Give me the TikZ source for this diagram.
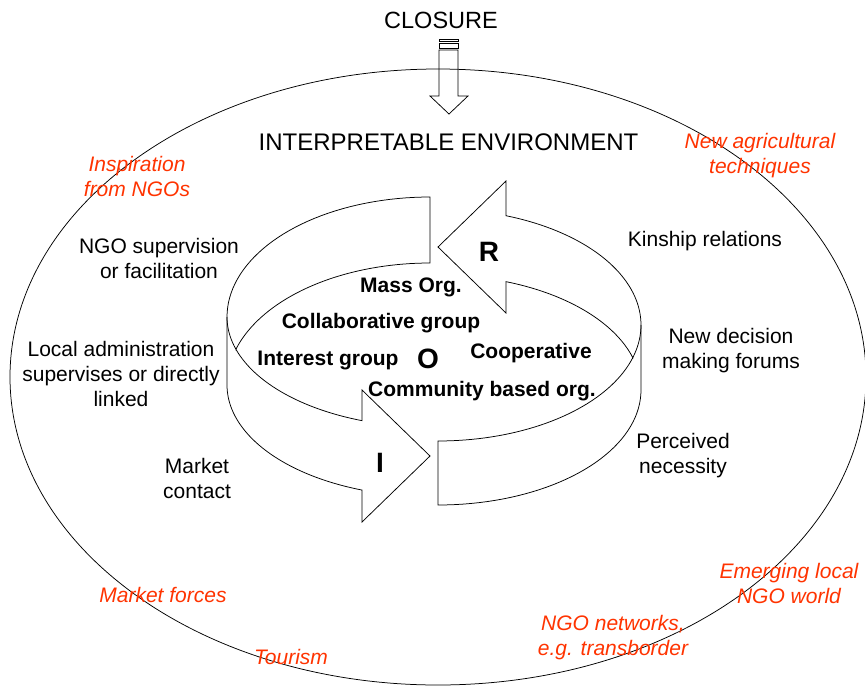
\documentclass[tikz,border=0pt]{standalone}
\usepackage{fontspec}
\setmainfont{Liberation Sans}
\definecolor{extred}{RGB}{255,51,0}
\begin{document}
\begin{tikzpicture}[x=1pt,y=-1pt,line width=0.75pt,
  band/.style={draw=black,fill=white,line width=0.75pt},
  lbl/.style={font=\fontsize{21}{25}\selectfont,align=center,inner sep=0pt},
  ext/.style={lbl,text=extred,font=\fontsize{21}{25}\selectfont\itshape},
  org/.style={font=\fontsize{21}{25}\selectfont\bfseries,inner sep=0pt},
  big/.style={font=\fontsize{28}{30}\selectfont\bfseries,inner sep=0pt},
  headline/.style={font=\fontsize{23.5}{28}\selectfont,inner sep=0pt}]
\useasboundingbox (0,0) rectangle (865,686);

% environment boundary
\draw (438,377) ellipse [x radius=428pt, y radius=308pt];

% striped closure arrow
\draw (439,39) rectangle (458,41.5);
\draw (439,43.5) rectangle (458,48);
\draw (439,50) -- (439,96) -- (430,96) -- (449,114) -- (468,96) -- (458,96) -- (458,50) -- cycle;

% left curved arrow (I), running from the back round to the front
\draw[band] (430,197)
  -- plot[domain=270:180,samples=40] ({430+203*cos(\x)},{317+120*sin(\x)})
  -- (227,385)
  -- plot[domain=180:109.6,samples=40] ({430+203*cos(\x)},{385+111.5*sin(\x)})
  -- (362,522) -- (430,456) -- (362,390)
  -- plot[domain=109.6:162.96,samples=30] ({430+203*cos(\x)},{317+110*sin(\x)})
  -- plot[domain=197.04:270,samples=40] ({430+203*cos(\x)},{385+122*sin(\x)})
  -- cycle;
\draw plot[domain=162.96:180,samples=10] ({430+203*cos(\x)},{317+110*sin(\x)});

% right curved arrow (R), running from the front round to the back
\draw[band] (438,247) -- (506,181)
  -- plot[domain=-70.4:0,samples=40] ({438+203*cos(\x)},{325+116*sin(\x)})
  -- (641,390)
  -- plot[domain=0:90,samples=40] ({438+203*cos(\x)},{390+115*sin(\x)})
  -- plot[domain=90:16.34,samples=40] ({438+203*cos(\x)},{325+116*sin(\x)})
  -- plot[domain=-16.34:-70.4,samples=40] ({438+203*cos(\x)},{390+115*sin(\x)})
  -- (506,313) -- cycle;
\draw plot[domain=16.34:0,samples=10] ({438+203*cos(\x)},{325+116*sin(\x)});

% headings
\node[headline] (closure) at (441,20) {CLOSURE};
\node[headline,font=\fontsize{24}{28}\selectfont] (env) at (448.5,142) {INTERPRETABLE ENVIRONMENT};

% loop letters
\node[big] (rr) at (489,252) {R};
\node[big] (oo) at (428,359) {O};
\node[big] (ii) at (380,463) {I};

% organisation forms
\node[org] (mass) at (411,287) {Mass Org.};
\node[org] (collab) at (381,323) {Collaborative group};
\node[org] (interest) at (328,360) {Interest group};
\node[org] (coop) at (531,353) {Cooperative};
\node[org] (cbo) at (482,391.5) {Community based org.};

% local influences
\node[lbl] (ngosup) at (159,258) {NGO supervision\\or facilitation};
\node[lbl] (localadm) at (121,374) {Local administration\\supervises or directly\\linked};
\node[lbl] (market) at (197,478) {Market\\contact};
\node[lbl] (kin) at (705,241) {Kinship relations};
\node[lbl] (forums) at (731,350.5) {New decision\\making forums};
\node[lbl] (need) at (683,456) {Perceived\\necessity};

% external influences
\node[ext] (inspire) at (137,176.5) {Inspiration\\from NGOs};
\node[ext] (agri) at (760,155.5) {New agricultural\\techniques};
\node[ext] (forces) at (163,595) {Market forces};
\node[ext] (tour) at (291,657) {Tourism};
\node[ext] (networks) at (613,637.5) {NGO networks,\\e.g. transborder};
\node[ext] (emerging) at (789,583) {Emerging local\\NGO world};
\end{tikzpicture}
\end{document}
